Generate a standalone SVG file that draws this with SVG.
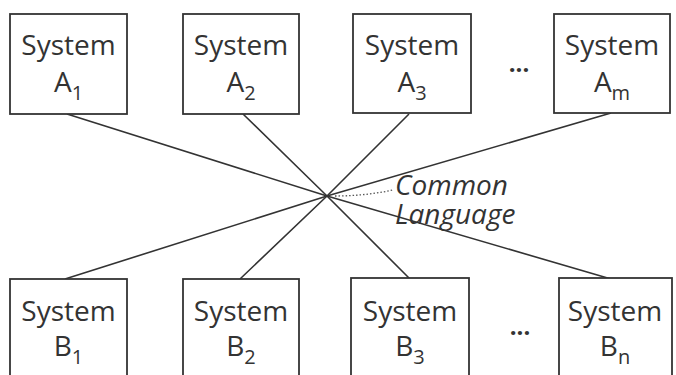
<svg xmlns="http://www.w3.org/2000/svg" width="676" height="375" viewBox="0 0 676 375">
<style>
.box{fill:#fff;stroke:#333;stroke-width:1.8}
.t{font-family:"Open Sans","Liberation Sans",sans-serif;font-size:28px;fill:#333;text-anchor:middle}
.sub{font-size:20px}
.ln{stroke:#333;stroke-width:1.6;fill:none}
.dots{font-family:"Open Sans","Liberation Sans",sans-serif;font-size:24px;font-weight:bold;fill:#333;text-anchor:middle}
.lbl{font-family:"Open Sans","Liberation Sans",sans-serif;font-size:28px;font-style:italic;fill:#333}
</style>
<rect width="676" height="375" fill="#fff"/>
<g id="connectors">
<polyline class="ln" points="67,114 327,196 611,279"/>
<polyline class="ln" points="243,114 327,196 410,279"/>
<polyline class="ln" points="409,114 327,196 240,279"/>
<polyline class="ln" points="611,113 327,196 65,279"/>
<path d="M335,196 Q365,196 393,190" fill="none" stroke="#555" stroke-width="1.3" stroke-dasharray="1.5,2"/>
</g>
<g id="A1"><rect class="box" x="10" y="14" width="117" height="100"/><text class="t" x="68.5" y="55">System</text><text class="t" x="68.5" y="92">A<tspan class="sub" dy="8">1</tspan></text></g>
<g id="A2"><rect class="box" x="183" y="14" width="116" height="100"/><text class="t" x="241" y="55">System</text><text class="t" x="241" y="92">A<tspan class="sub" dy="8">2</tspan></text></g>
<g id="A3"><rect class="box" x="353" y="14" width="118" height="99"/><text class="t" x="412" y="55">System</text><text class="t" x="412" y="92">A<tspan class="sub" dy="8">3</tspan></text></g>
<text class="dots" x="519" y="72">...</text>
<g id="Am"><rect class="box" x="554" y="14" width="116" height="99"/><text class="t" x="612" y="55">System</text><text class="t" x="612" y="92">A<tspan class="sub" dy="8">m</tspan></text></g>
<g id="label"><text class="lbl" x="395" y="195">Common</text><text class="lbl" x="395" y="224">Language</text></g>
<g id="B1"><rect class="box" x="10" y="279" width="117" height="110"/><text class="t" x="68.5" y="321">System</text><text class="t" x="68.5" y="356">B<tspan class="sub" dy="8">1</tspan></text></g>
<g id="B2"><rect class="box" x="183" y="279" width="116" height="110"/><text class="t" x="241" y="321">System</text><text class="t" x="241" y="356">B<tspan class="sub" dy="8">2</tspan></text></g>
<g id="B3"><rect class="box" x="351" y="278" width="118" height="110"/><text class="t" x="410" y="321">System</text><text class="t" x="410" y="356">B<tspan class="sub" dy="8">3</tspan></text></g>
<text class="dots" x="520" y="335">...</text>
<g id="Bn"><rect class="box" x="559" y="278" width="113" height="110"/><text class="t" x="615" y="321">System</text><text class="t" x="615" y="356">B<tspan class="sub" dy="8">n</tspan></text></g>
</svg>
